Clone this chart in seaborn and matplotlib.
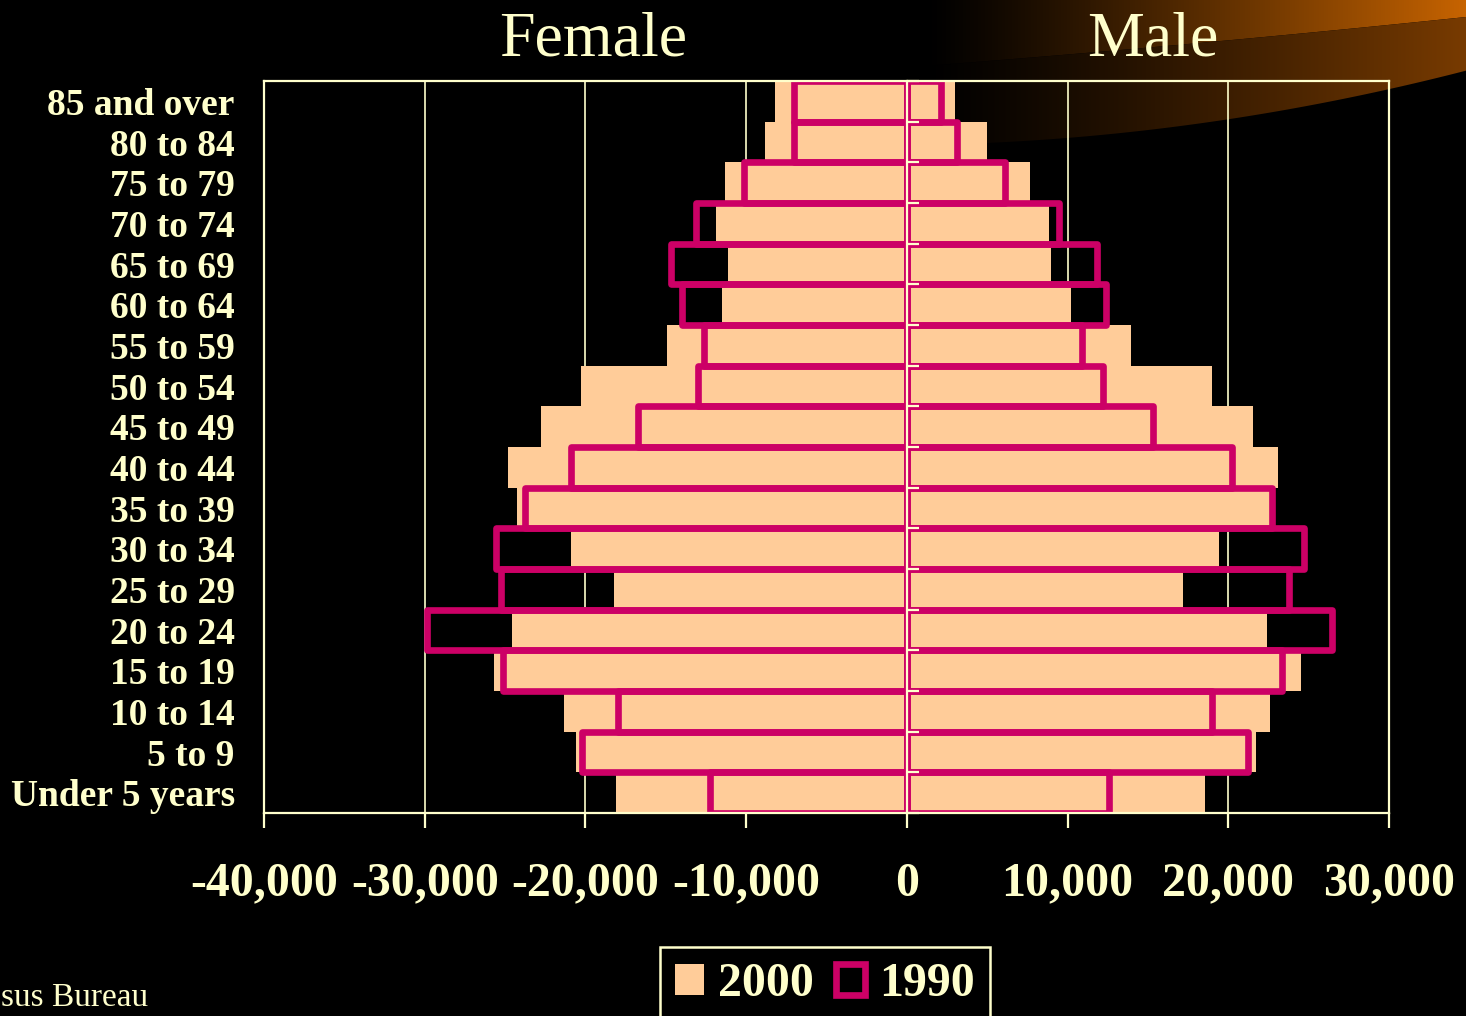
import numpy as np
import pandas as pd
import matplotlib
matplotlib.use("Agg")
import matplotlib.pyplot as plt
import seaborn as sns
from matplotlib.patches import Polygon
from matplotlib.ticker import FuncFormatter, MultipleLocator

# age groups, top of the pyramid first
age_groups = ["85 and over", "80 to 84", "75 to 79", "70 to 74", "65 to 69",
              "60 to 64", "55 to 59", "50 to 54", "45 to 49", "40 to 44",
              "35 to 39", "30 to 34", "25 to 29", "20 to 24", "15 to 19",
              "10 to 14", "5 to 9", "Under 5 years"]

female_2000 = [-8200, -8850, -11300, -11850, -11100, -11500, -14950, -20300, -22750,
               -24800, -24250, -20900, -18250, -24550, -25700, -21350, -20600, -18070]
female_1990 = [-7000, -7000, -10150, -13150, -14650, -14000, -12650, -13000, -16750,
               -20900, -23750, -25550, -25250, -29870, -25100, -17950, -20200, -12270]
male_2000 = [3000, 5000, 7650, 8850, 8970, 10200, 13950, 19000, 21550,
             23100, 22800, 19440, 17200, 22430, 24550, 22620, 21700, 18570]
male_1990 = [2100, 3100, 6100, 9450, 11850, 12400, 10900, 12200, 15330,
             20200, 22700, 24700, 23800, 26480, 23360, 19000, 21250, 12600]

BG = "#000000"
CREAM = "#FFFFCC"
PEACH = "#FFCC99"
MAGENTA = "#CC0066"
W, H = 1466, 1016

df = pd.DataFrame({"age": age_groups, "f2000": female_2000, "f1990": female_1990,
                   "m2000": male_2000, "m1990": male_1990})

sns.set_theme(style="dark")
plt.rcParams["font.family"] = ["Liberation Serif", "DejaVu Serif"]

fig = plt.figure(figsize=(W / 100, H / 100), dpi=100, facecolor=BG)

# decorative orange swoosh in the top right corner
bg = fig.add_axes([0, 0, 1, 1], zorder=0)
bg.set_xlim(0, W)
bg.set_ylim(H, 0)
bg.axis("off")
gx = np.linspace(0, 1, 500) ** 1.2
x0 = 925
cx = np.linspace(x0, W, 120)
upper = np.polyval(np.polyfit([x0, 1199, W], [66, 43, 17], 2), cx)
lower = np.polyval(np.polyfit([x0, 1199, 1390, W], [145, 123, 90, 70], 2), cx)
for col, top_c, bot_c in [((0.78, 0.39, 0.0), np.zeros_like(cx), upper),
                          ((0.47, 0.23, 0.0), upper, lower)]:
    img = np.ones((2, len(gx), 3)) * np.array(col) * gx[None, :, None]
    im = bg.imshow(img, extent=[x0, W, 160, 0], aspect="auto", interpolation="bilinear")
    poly = np.vstack([np.column_stack([cx, top_c]), np.column_stack([cx[::-1], bot_c[::-1]])])
    clip = Polygon(poly, closed=True, transform=bg.transData)
    im.set_clip_path(clip)

ax = fig.add_axes([264 / W, 1 - 813 / H, (1389 - 264) / W, (813 - 81) / H], zorder=1)
ax.set_facecolor("none")

sns.barplot(data=df, x="f2000", y="age", orient="h", color=PEACH, width=1.0,
            linewidth=0, saturation=1, label="2000", ax=ax)
sns.barplot(data=df, x="m2000", y="age", orient="h", color=PEACH, width=1.0,
            linewidth=0, saturation=1, ax=ax)
sns.barplot(data=df, x="f1990", y="age", orient="h", color=MAGENTA, width=1.0,
            fill=False, linewidth=4.8, saturation=1, label="1990", ax=ax)
sns.barplot(data=df, x="m1990", y="age", orient="h", color=MAGENTA, width=1.0,
            fill=False, linewidth=4.8, saturation=1, ax=ax)
for c in ax.containers[2:]:
    for p in c:
        p.set_joinstyle("round")
if ax.get_legend() is not None:
    ax.get_legend().remove()

ax.set_xlim(-40000, 30000)
ax.set_ylim(len(age_groups) - 0.5, -0.5)
ax.xaxis.set_major_locator(MultipleLocator(10000))
ax.xaxis.set_major_formatter(FuncFormatter(lambda v, p: f"{v:,.0f}"))
ax.set_xlabel("")
ax.set_ylabel("")
ax.grid(axis="x", color=CREAM, linewidth=1.2)
ax.grid(axis="y", visible=False)
ax.set_axisbelow(True)
for s in ax.spines.values():
    s.set_visible(True)
    s.set_color(CREAM)
    s.set_linewidth(1.6)

ax.tick_params(axis="x", direction="out", length=11, width=1.6, color=CREAM,
               pad=24, labelsize=34.5, labelcolor=CREAM, bottom=True)
ax.tick_params(axis="y", length=0, pad=21, labelsize=27, labelcolor=CREAM, left=False)
for t in ax.get_xticklabels() + ax.get_yticklabels():
    t.set_fontweight("bold")

# centre axis at zero with small ticks between age groups
sec = ax.secondary_yaxis(40000 / 70000)
sec.set_zorder(3)
sec.set_yticks(np.arange(-0.5, len(age_groups), 1.0))
sec.set_yticklabels([])
sec.tick_params(axis="y", direction="out", length=8.5, width=1.6, color=CREAM)
for s in sec.spines.values():
    s.set_color(CREAM)
    s.set_linewidth(1.6)

fig.text(593 / W, 1 - 55 / H, "Female", ha="center", va="baseline",
         fontsize=46, color=CREAM)
fig.text(1153 / W, 1 - 55 / H, "Male", ha="center", va="baseline",
         fontsize=46, color=CREAM)

handles, labels = ax.get_legend_handles_labels()
leg = fig.legend(handles, labels, loc="upper center", bbox_to_anchor=(825 / W, 1 - 947 / H),
                 borderaxespad=0, ncol=2, frameon=True, fancybox=False, edgecolor=CREAM,
                 facecolor=BG, framealpha=1, labelcolor=CREAM, handlelength=0.6,
                 handleheight=0.6, handletextpad=0.3, columnspacing=0.45, borderpad=0.32,
                 prop={"family": ["Liberation Serif"], "weight": "bold", "size": 34.5})
leg.get_frame().set_linewidth(1.8)

fig.text(1 / W, 1 - 1006 / H, "sus Bureau", ha="left", va="baseline", fontsize=24, color=CREAM)

fig.savefig("out.png", dpi=100, facecolor=BG)
